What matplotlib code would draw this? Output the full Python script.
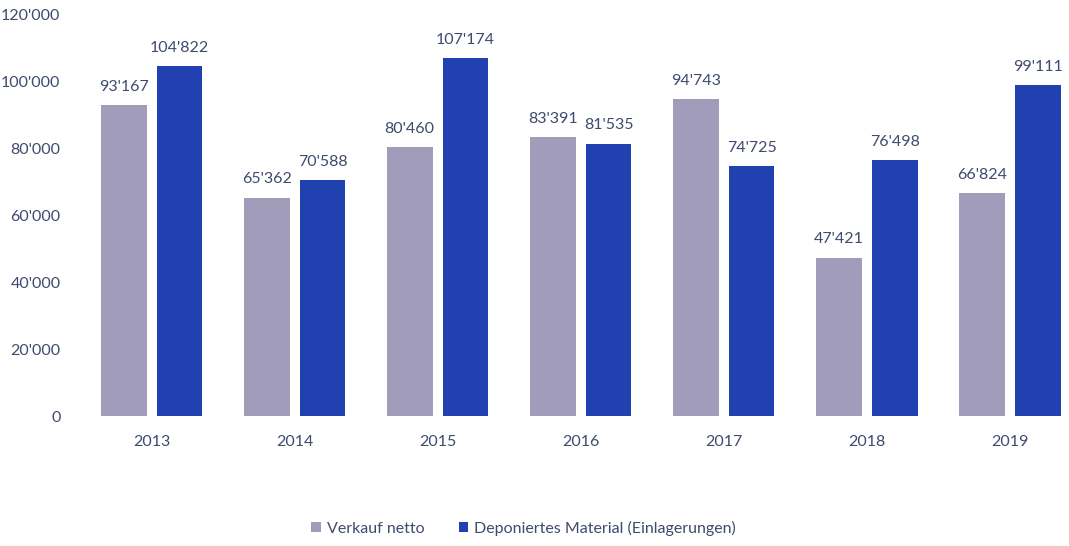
import matplotlib.pyplot as plt
import numpy as np

years = ["2013", "2014", "2015", "2016", "2017", "2018", "2019"]
verkauf = [93167, 65362, 80460, 83391, 94743, 47421, 66824]
deponiert = [104822, 70588, 107174, 81535, 74725, 76498, 99111]
yticks = [0, 20000, 40000, 60000, 80000, 100000, 120000]

TXT = "#3e4a6e"
GREY = "#a29cbb"
BLUE = "#2141b0"


def fmt(v):
    return f"{v:,}".replace(",", "'")


plt.rcParams["font.family"] = ["Lato", "DejaVu Sans"]

fig = plt.figure(figsize=(10.69, 5.46), dpi=100)
ax = fig.add_axes([80 / 1069, 130 / 546, 987 / 1069, 401 / 546])

x = np.arange(len(years))
w = 0.32
off = 0.195
b1 = ax.bar(x - off, verkauf, w, color=GREY, label="Verkauf netto")
b2 = ax.bar(x + off, deponiert, w, color=BLUE, label="Deponiertes Material (Einlagerungen)")

# value labels above each bar
for bars in (b1, b2):
    for r in bars:
        ax.annotate(fmt(int(r.get_height())), (r.get_x() + r.get_width() / 2, r.get_height()),
                    xytext=(0, 8), textcoords="offset points", ha="center", va="bottom",
                    fontsize=11.5, color=TXT)

ax.set_ylim(0, 120000)
ax.set_xlim(-0.5, 6.4)
ax.set_yticks(yticks)
ax.set_yticklabels([fmt(v) for v in yticks])
ax.set_xticks(x)
ax.set_xticklabels(years)
ax.tick_params(axis="both", length=0, colors=TXT, labelsize=11.5)
ax.tick_params(axis="y", pad=14)
ax.tick_params(axis="x", pad=14)
for s in ax.spines.values():
    s.set_visible(False)

fig.legend(handles=[b1, b2], loc="center", bbox_to_anchor=(0.49, 0.033), ncol=2,
           frameon=False, fontsize=11.5, labelcolor=TXT, handlelength=0.6,
           handleheight=0.6, columnspacing=2.1, handletextpad=0.4)

fig.savefig("out.png", dpi=100)
